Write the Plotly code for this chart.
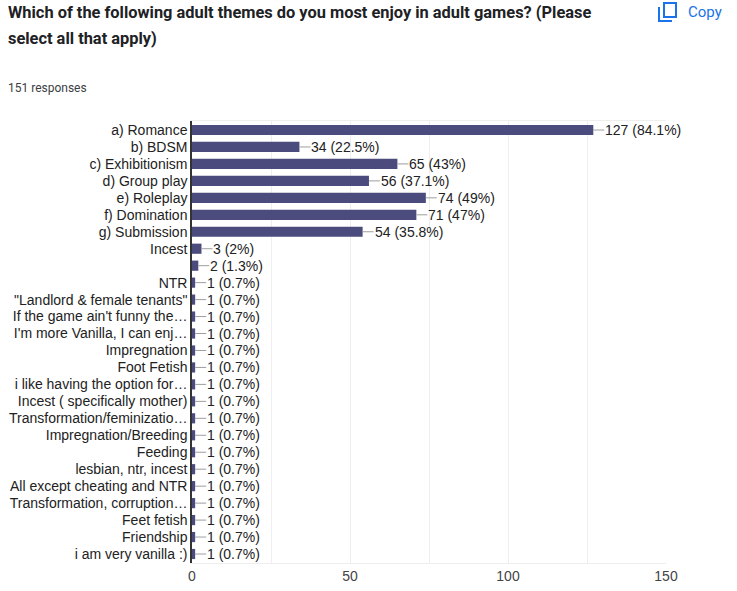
import plotly.graph_objects as go

categories = [
    "a) Romance", "b) BDSM", "c) Exhibitionism", "d) Group play", "e) Roleplay",
    "f) Domination", "g) Submission", "Incest", " ", "NTR",
    "\"Landlord & female tenants\"", "If the game ain't funny the…",
    "I'm more Vanilla, I can enj…", "Impregnation", "Foot Fetish",
    "i like having the option for…", "Incest ( specifically mother)",
    "Transformation/feminizatio…", "Impregnation/Breeding", "Feeding",
    "lesbian, ntr, incest", "All except cheating and NTR",
    "Transformation, corruption…", "Feet fetish", "Friendship",
    "i am very vanilla :)",
]
counts = [127, 34, 65, 56, 74, 71, 54, 3, 2] + [1] * 17
total_responses = 151
x_ticks = [0, 50, 100, 150]

W, H = 737, 591
L, R, T, B = 192, 71, 121, 28
PW, PH = W - L - R, H - T - B
FONT = "Liberation Sans, Arial"


def px(x):
    return (x - L) / PW


def py(y):
    return (H - B - y) / PH


def pct(v):
    p = round(v / total_responses * 100, 1)
    s = f"{p:.1f}"
    if s.endswith(".0"):
        s = s[:-2]
    return f"{v} ({s}%)"


fig = go.Figure(go.Bar(
    x=counts, y=categories, orientation="h",
    marker=dict(color="#4b4b7e", line=dict(width=0)),
    hoverinfo="skip",
))

annotations = []
for c, v in zip(categories, counts):
    annotations.append(dict(
        x=v, y=c, xref="x", yref="y", text=pct(v),
        showarrow=True, arrowhead=0, arrowwidth=1, arrowcolor="#9e9e9e",
        ax=11, ay=0, xanchor="left", yanchor="middle", standoff=0,
        borderpad=0,
        font=dict(family=FONT, size=14, color="#222222"),
    ))

annotations += [
    dict(x=px(7), y=py(13), xref="paper", yref="paper", showarrow=False,
         xanchor="left", yanchor="middle", borderpad=0,
         text="<b>Which of the following adult themes do you most enjoy in adult games? (Please</b>",
         font=dict(family="Roboto", size=16.4, color="#202124")),
    dict(x=px(7), y=py(38), xref="paper", yref="paper", showarrow=False,
         xanchor="left", yanchor="middle", borderpad=0,
         text="<b>select all that apply)</b>",
         font=dict(family="Roboto", size=16.4, color="#202124")),
    dict(x=px(7), y=py(88), xref="paper", yref="paper", showarrow=False,
         xanchor="left", yanchor="middle", text="151 responses", borderpad=0,
         font=dict(family="Roboto", size=12, color="#3c4043")),
    dict(x=px(687), y=py(12), xref="paper", yref="paper", showarrow=False,
         xanchor="left", yanchor="middle", text="Copy", borderpad=0,
         font=dict(family="Roboto", size=15, color="#1a73e8")),
]

shapes = [
    dict(type="rect", xref="paper", yref="paper",
         x0=px(664), x1=px(676), y0=py(3), y1=py(17),
         line=dict(color="#1a73e8", width=2)),
    dict(type="path", xref="paper", yref="paper",
         path=f"M {px(659)} {py(7)} L {px(659)} {py(21)} L {px(672)} {py(21)}",
         line=dict(color="#1a73e8", width=2)),
]

fig.update_layout(
    width=W, height=H,
    margin=dict(l=L, r=R, t=T, b=B, pad=0, autoexpand=False),
    paper_bgcolor="white", plot_bgcolor="white",
    showlegend=False, bargap=0.4,
    annotations=annotations, shapes=shapes,
    xaxis=dict(
        range=[0, 150], tickvals=x_ticks, ticktext=[str(t) for t in x_ticks],
        showgrid=True, gridcolor="#eeeeee", gridwidth=1,
        minor=dict(dtick=25, showgrid=True, gridcolor="#eeeeee", gridwidth=1),
        zeroline=False, showline=True, linecolor="#eeeeee", linewidth=1,
        mirror=True, ticks="", automargin=False,
        tickfont=dict(family=FONT, size=14, color="#444444"),
        fixedrange=True,
    ),
    yaxis=dict(
        type="category", autorange="reversed",
        tickmode="array", tickvals=categories, ticktext=categories,
        showgrid=False, zeroline=False, showline=True,
        linecolor="#333333", linewidth=1.5, ticks="",
        ticklabelstandoff=0, automargin=False,
        tickfont=dict(family=FONT, size=14, color="#222222"),
        fixedrange=True,
    ),
)

fig.write_html(
    "out.html",
    config={"displayModeBar": False},
    post_script="document.body.style.margin='0';document.body.style.overflow='hidden';",
)
